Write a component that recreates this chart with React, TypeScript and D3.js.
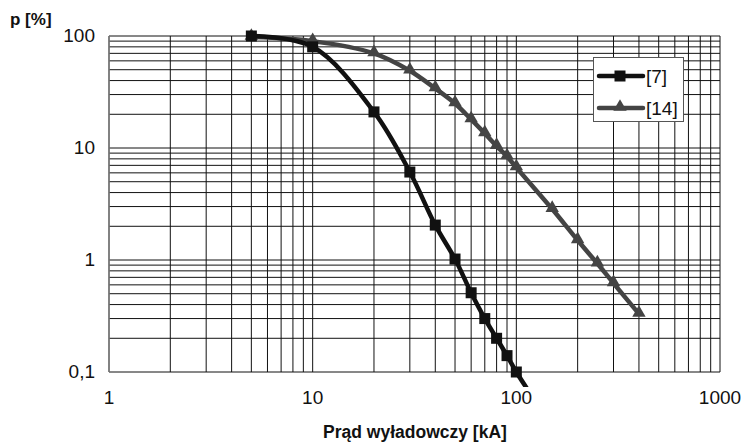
import { useEffect, useRef } from "react";
import * as d3 from "d3";

// Prąd wyładowczy [kA] vs p [%]
const current7 = [5, 10, 20, 30, 40, 50, 60, 70, 80, 90, 100, 120];
const prob7 = [100, 80, 21, 6.1, 2.05, 1.02, 0.51, 0.3, 0.2, 0.14, 0.1, 0.06];

const current14 = [5, 10, 20, 30, 40, 50, 60, 70, 80, 90, 100, 150, 200, 250, 300, 400];
const prob14 = [98, 90, 70, 49, 34, 25, 18, 13.5, 10.4, 8.4, 6.7, 2.85, 1.5, 0.93, 0.62, 0.33];

const xTicks = [1, 10, 100, 1000];
const yTicks = [0.1, 1, 10, 100];
const yTickLabels = ["0,1", "1", "10", "100"];
const seriesNames = ["[7]", "[14]"];

export default function App() {
  const svgRef = useRef<SVGSVGElement>(null);

  useEffect(() => {
    if (!svgRef.current) return;
    const svg = d3.select(svgRef.current);
    svg.selectAll("*").remove();

    const width = 742;
    const height = 447;
    const left = 109;
    const right = 720;
    const top = 36;
    const bottom = 372;
    const font = "Liberation Sans, Arial, sans-serif";

    const x = d3.scaleLog().domain([1, 1000]).range([left, right]);
    const y = d3.scaleLog().domain([0.1, 100]).range([bottom, top]);

    svg.attr("width", width).attr("height", height);

    // grid lines at every 1..9 step of each decade
    const xGrid: number[] = [];
    for (let d = 1; d < 1000; d *= 10) for (let k = 1; k <= 10; k++) xGrid.push(+(d * k).toPrecision(6));
    const yGrid: number[] = [];
    for (let d = 0.1; d < 100; d *= 10) for (let k = 1; k <= 10; k++) yGrid.push(+(d * k).toPrecision(6));

    const grid = svg.append("g");
    grid
      .selectAll("line.v")
      .data(Array.from(new Set(xGrid)))
      .join("line")
      .attr("x1", (d) => x(d))
      .attr("x2", (d) => x(d))
      .attr("y1", top)
      .attr("y2", bottom)
      .attr("stroke", "#111")
      .attr("stroke-width", 1);
    grid
      .selectAll("line.h")
      .data(Array.from(new Set(yGrid)))
      .join("line")
      .attr("x1", left)
      .attr("x2", right)
      .attr("y1", (d) => y(d))
      .attr("y2", (d) => y(d))
      .attr("stroke", "#111")
      .attr("stroke-width", 1);

    // left axis line
    svg
      .append("line")
      .attr("x1", left)
      .attr("x2", left)
      .attr("y1", top)
      .attr("y2", bottom)
      .attr("stroke", "#808080")
      .attr("stroke-width", 1.5);

    // tick labels
    svg
      .append("g")
      .selectAll("text")
      .data(yTicks)
      .join("text")
      .attr("x", 95)
      .attr("y", (d) => y(d) + 6)
      .attr("text-anchor", "end")
      .attr("font-family", font)
      .attr("font-size", "19px")
      .attr("fill", "#111")
      .text((d, i) => yTickLabels[i]);

    svg
      .append("g")
      .selectAll("text")
      .data(xTicks)
      .join("text")
      .attr("x", (d) => x(d))
      .attr("y", 404)
      .attr("text-anchor", "middle")
      .attr("font-family", font)
      .attr("font-size", "19px")
      .attr("fill", "#111")
      .text((d) => String(d));

    // axis titles
    svg
      .append("text")
      .attr("x", 10)
      .attr("y", 25)
      .attr("font-family", font)
      .attr("font-size", "17px")
      .attr("font-weight", "bold")
      .attr("fill", "#111")
      .text("p [%]");

    svg
      .append("text")
      .attr("x", 415)
      .attr("y", 438)
      .attr("text-anchor", "middle")
      .attr("font-family", font)
      .attr("font-size", "17.5px")
      .attr("font-weight", "bold")
      .attr("fill", "#111")
      .text("Prąd wyładowczy [kA]");

    // series
    svg
      .append("clipPath")
      .attr("id", "plotClip")
      .append("rect")
      .attr("x", 90)
      .attr("y", 20)
      .attr("width", 640)
      .attr("height", 367);

    const line = d3
      .line<[number, number]>()
      .x((d) => x(d[0]))
      .y((d) => y(d[1]))
      .curve(d3.curveCatmullRom.alpha(0.5));

    const plot = svg.append("g").attr("clip-path", "url(#plotClip)");

    const s14 = current14.map((c, i) => [c, prob14[i]] as [number, number]);
    const s7 = current7.map((c, i) => [c, prob7[i]] as [number, number]);

    const triangle = d3.symbol().type(d3.symbolTriangle).size(78);

    plot
      .append("path")
      .datum(s14)
      .attr("d", line)
      .attr("fill", "none")
      .attr("stroke", "#444")
      .attr("stroke-width", 4.5);
    plot
      .append("g")
      .selectAll("path")
      .data(s14)
      .join("path")
      .attr("d", triangle)
      .attr("transform", (d) => `translate(${x(d[0])},${y(d[1]) - 1})`)
      .attr("fill", "#444");

    plot
      .append("path")
      .datum(s7)
      .attr("d", line)
      .attr("fill", "none")
      .attr("stroke", "#111")
      .attr("stroke-width", 4.5);
    plot
      .append("g")
      .selectAll("rect")
      .data(s7)
      .join("rect")
      .attr("x", (d) => x(d[0]) - 5.5)
      .attr("y", (d) => y(d[1]) - 5.5)
      .attr("width", 11)
      .attr("height", 11)
      .attr("fill", "#111");

    // legend
    const legend = svg.append("g");
    legend
      .append("rect")
      .attr("x", 593.5)
      .attr("y", 57.5)
      .attr("width", 90)
      .attr("height", 64)
      .attr("fill", "#fff")
      .attr("stroke", "#555")
      .attr("stroke-width", 1);

    const legendRows = [
      { y: 76, color: "#111", shape: "square" },
      { y: 108, color: "#444", shape: "triangle" },
    ];
    legendRows.forEach((r, i) => {
      legend
        .append("line")
        .attr("x1", 599)
        .attr("x2", 643)
        .attr("y1", r.y)
        .attr("y2", r.y)
        .attr("stroke", r.color)
        .attr("stroke-width", 4.5)
        .attr("stroke-linecap", "round");
      if (r.shape === "square") {
        legend
          .append("rect")
          .attr("x", 614.5)
          .attr("y", r.y - 5.5)
          .attr("width", 11)
          .attr("height", 11)
          .attr("fill", r.color);
      } else {
        legend
          .append("path")
          .attr("d", triangle)
          .attr("transform", `translate(620,${r.y - 1})`)
          .attr("fill", r.color);
      }
      legend
        .append("text")
        .attr("x", 646)
        .attr("y", r.y + 7)
        .attr("font-family", font)
        .attr("font-size", "19px")
        .attr("fill", "#111")
        .text(seriesNames[i]);
    });
  }, []);

  return (
    <div style={{ position: "absolute", left: 0, top: 0 }}>
      <svg ref={svgRef} width="742" height="447"></svg>
    </div>
  );
}
